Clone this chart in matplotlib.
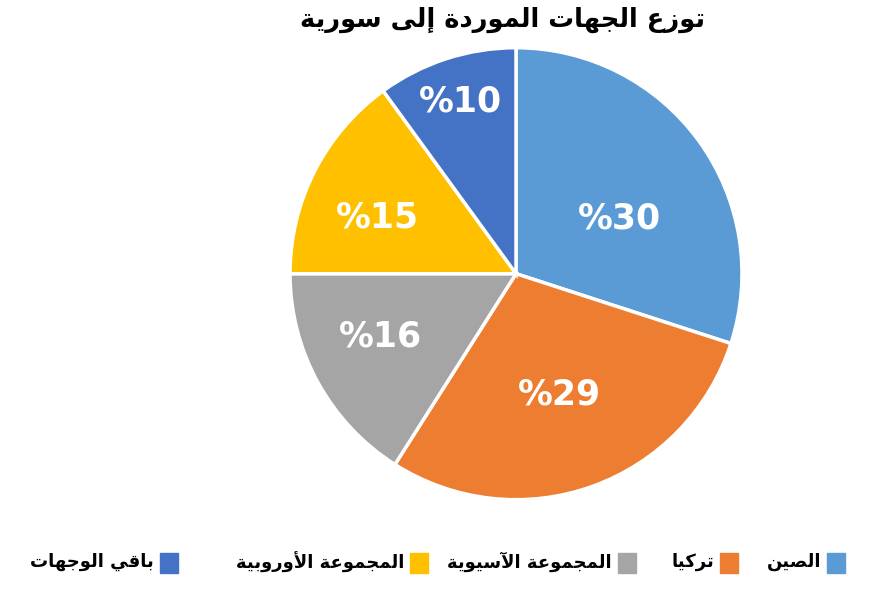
import numpy as np
import matplotlib.pyplot as plt
from matplotlib.patches import Rectangle

title = "توزع الجهات الموردة إلى سورية"
categories = ["الصين", "تركيا", "المجموعة الآسيوية", "المجموعة الأوروبية", "باقي الوجهات"]
shares = [30, 29, 16, 15, 10]
colors = ["#5B9BD5", "#ED7D31", "#A5A5A5", "#FFC000", "#4472C4"]

# simple Arabic shaping: letter -> (isolated, final, initial, medial); None = does not join forward
FORMS = {
    "ا": (0xFE8D, 0xFE8E, None, None), "آ": (0xFE81, 0xFE82, None, None),
    "أ": (0xFE83, 0xFE84, None, None), "إ": (0xFE87, 0xFE88, None, None),
    "ب": (0xFE8F, 0xFE90, 0xFE91, 0xFE92), "ة": (0xFE93, 0xFE94, None, None),
    "ت": (0xFE95, 0xFE96, 0xFE97, 0xFE98), "ج": (0xFE9D, 0xFE9E, 0xFE9F, 0xFEA0),
    "د": (0xFEA9, 0xFEAA, None, None), "ر": (0xFEAD, 0xFEAE, None, None),
    "ز": (0xFEAF, 0xFEB0, None, None), "س": (0xFEB1, 0xFEB2, 0xFEB3, 0xFEB4),
    "ص": (0xFEB9, 0xFEBA, 0xFEBB, 0xFEBC), "ع": (0xFEC9, 0xFECA, 0xFECB, 0xFECC),
    "ق": (0xFED5, 0xFED6, 0xFED7, 0xFED8), "ك": (0xFED9, 0xFEDA, 0xFEDB, 0xFEDC),
    "ل": (0xFEDD, 0xFEDE, 0xFEDF, 0xFEE0), "م": (0xFEE1, 0xFEE2, 0xFEE3, 0xFEE4),
    "ن": (0xFEE5, 0xFEE6, 0xFEE7, 0xFEE8), "ه": (0xFEE9, 0xFEEA, 0xFEEB, 0xFEEC),
    "و": (0xFEED, 0xFEEE, None, None), "ى": (0xFEEF, 0xFEF0, None, None),
    "ي": (0xFEF1, 0xFEF2, 0xFEF3, 0xFEF4),
}
LAM_ALEF = {"ا": (0xFEFB, 0xFEFC), "أ": (0xFEF7, 0xFEF8),
            "آ": (0xFEF5, 0xFEF6), "إ": (0xFEF9, 0xFEFA)}


def shape(word):
    # merge lam + alef into ligature tokens
    toks = []
    i = 0
    while i < len(word):
        if word[i] == "ل" and i + 1 < len(word) and word[i + 1] in LAM_ALEF:
            toks.append(("LA", word[i + 1]))
            i += 2
        else:
            toks.append(("C", word[i]))
            i += 1

    def joins_fwd(t):
        if t[0] == "LA":
            return False
        f = FORMS.get(t[1])
        return f is not None and f[2] is not None

    def joins_back(t):
        return t[0] == "LA" or t[1] in FORMS

    out = []
    for k, t in enumerate(toks):
        prev = toks[k - 1] if k > 0 else None
        nxt = toks[k + 1] if k + 1 < len(toks) else None
        jb = prev is not None and joins_fwd(prev) and joins_back(t)
        jf = nxt is not None and joins_fwd(t) and joins_back(nxt)
        if t[0] == "LA":
            iso, fin = LAM_ALEF[t[1]]
            out.append(chr(fin if jb else iso))
            continue
        f = FORMS.get(t[1])
        if f is None:
            out.append(t[1])
        elif jb and jf:
            out.append(chr(f[3]))
        elif jb:
            out.append(chr(f[1]))
        elif jf:
            out.append(chr(f[2]))
        else:
            out.append(chr(f[0]))
    return "".join(out)


def ar(text):
    return " ".join(shape(w) for w in text.split(" "))[::-1]


plt.rcParams['font.family'] = ['DejaVu Sans']

fig = plt.figure(figsize=(8.72, 5.91), dpi=100)
ax = fig.add_axes([0.3326, 0.1545, 0.5183, 0.7648])

wedges, _ = ax.pie(
    shares, colors=colors, startangle=90, counterclock=False,
    wedgeprops=dict(edgecolor='white', linewidth=2.5))
ax.set_xlim(-1, 1)
ax.set_ylim(-1, 1)
ax.set_aspect('equal')

# label placement per slice: distance (fraction of radius), angle nudge (deg)
label_r = [0.52, 0.57, 0.66, 0.66, 0.80]
label_da = [-8, 0, -4, 5, 0]
for w, v, r, da in zip(wedges, shares, label_r, label_da):
    ang = np.deg2rad((w.theta1 + w.theta2) / 2 + da)
    ax.text(r * np.cos(ang), r * np.sin(ang), "%" + str(v),
            ha='center', va='center', color='white',
            fontsize=25, fontweight='bold')

fig.text(0.576, 0.967, ar(title), ha='center', va='center',
         fontsize=18.5, fontweight='bold')

# legend, right-to-left
sq_x = [827, 720, 618, 410, 160]
for x, c, lab in zip(sq_x, colors, categories):
    fig.add_artist(Rectangle((x / 872, 1 - 573 / 591), 18 / 872, 20 / 591,
                             transform=fig.transFigure, color=c))
    fig.text((x - 6) / 872, 1 - 562 / 591, ar(lab), ha='right', va='center',
             fontsize=13, fontweight='bold')

fig.savefig('out.png', dpi=100)
